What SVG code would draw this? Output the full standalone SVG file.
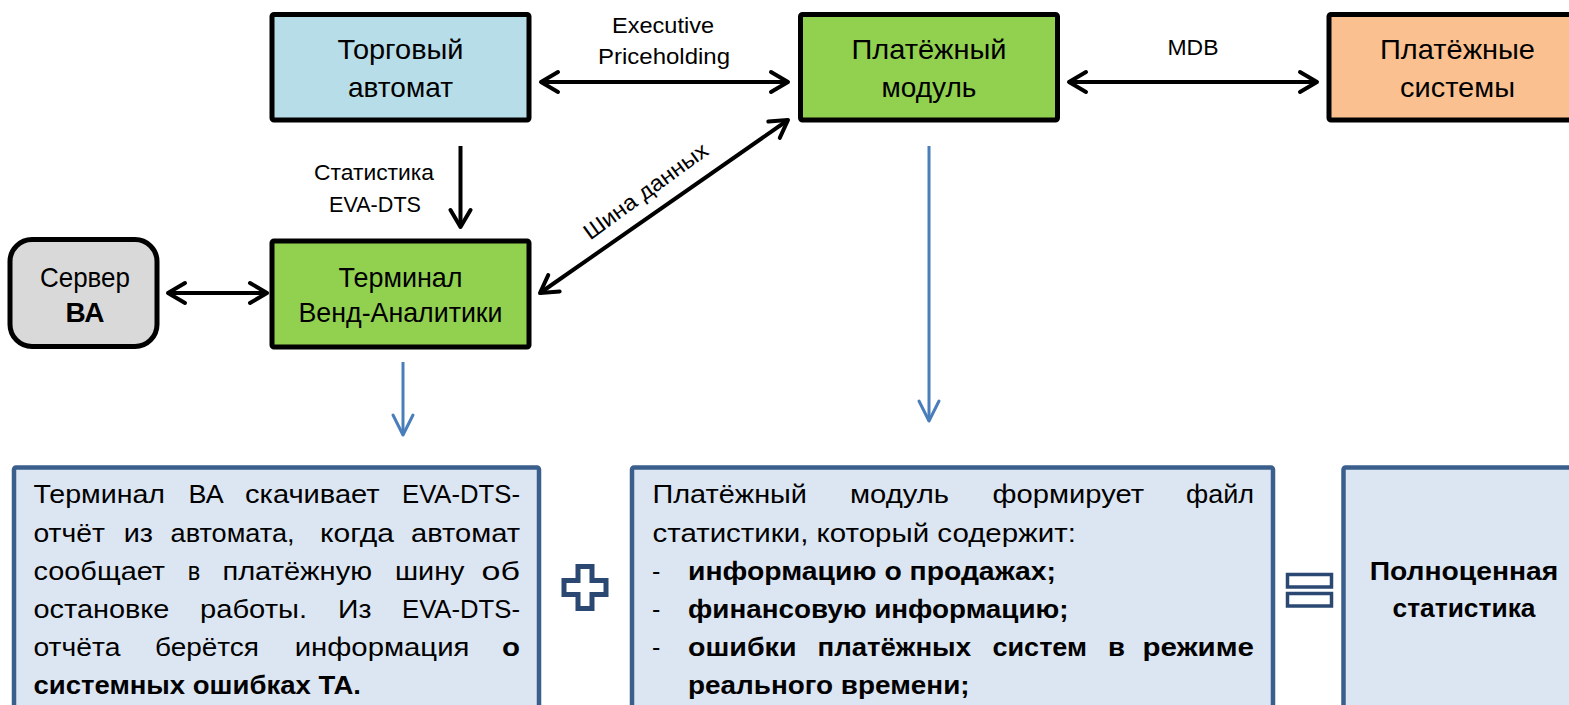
<svg xmlns="http://www.w3.org/2000/svg" width="1569" height="705" viewBox="0 0 1569 705">
<style>
text{font-family:"Liberation Sans",Arial,sans-serif;fill:#000}
.node{stroke:#000;stroke-width:5}
.nt{font-size:28px;text-anchor:middle}
.lbl{font-size:22px;text-anchor:middle}
.body{font-size:25px}
.b{font-weight:bold}
.tb{fill:#dce6f2;stroke:#3b5f8c;stroke-width:4.5}
.blk{stroke:#000;stroke-width:4;fill:none}
.blu{stroke:#4a7ebb;stroke-width:3;fill:none}
.sym{fill:#fff;stroke:#2b4873}
</style>
<defs>
<marker id="ah" markerWidth="26" markerHeight="26" viewBox="0 0 26 26" refX="22" refY="13" orient="auto-start-reverse" markerUnits="userSpaceOnUse">
<path d="M5,3 L22,13 L5,23" fill="none" stroke="#000" stroke-width="4" stroke-linecap="round" stroke-linejoin="round"/>
</marker>
<marker id="bh" markerWidth="26" markerHeight="26" viewBox="0 0 26 26" refX="23" refY="13" orient="auto" markerUnits="userSpaceOnUse">
<path d="M3,3 L23,13 L3,23" fill="none" stroke="#4a7ebb" stroke-width="3" stroke-linecap="round" stroke-linejoin="round"/>
</marker>
</defs>
<rect width="1569" height="705" fill="#fff"/>

<g id="connectors">
<line class="blk" x1="541" y1="82" x2="788" y2="82" marker-start="url(#ah)" marker-end="url(#ah)"/>
<line class="blk" x1="1069" y1="82" x2="1317" y2="82" marker-start="url(#ah)" marker-end="url(#ah)"/>
<line class="blk" x1="460.5" y1="146" x2="460.5" y2="227" marker-end="url(#ah)"/>
<line class="blk" x1="168" y1="293" x2="267" y2="293" marker-start="url(#ah)" marker-end="url(#ah)"/>
<line class="blk" x1="540" y1="293" x2="788" y2="120" marker-start="url(#ah)" marker-end="url(#ah)"/>
<line class="blu" x1="403" y1="362" x2="403" y2="435" marker-end="url(#bh)"/>
<line class="blu" x1="929" y1="146" x2="929" y2="421" marker-end="url(#bh)"/>
<text class="lbl" x="663" y="33" textLength="102" lengthAdjust="spacingAndGlyphs">Executive</text>
<text class="lbl" x="664" y="64" textLength="132" lengthAdjust="spacingAndGlyphs">Priceholding</text>
<text class="lbl" x="1193" y="55" textLength="51" lengthAdjust="spacingAndGlyphs">MDB</text>
<text class="lbl" x="374" y="180" textLength="120" lengthAdjust="spacingAndGlyphs">Статистика</text>
<text class="lbl" x="375" y="212" textLength="92" lengthAdjust="spacingAndGlyphs">EVA-DTS</text>
<text class="lbl" transform="translate(650,197) rotate(-36)" x="0" y="0" textLength="148" lengthAdjust="spacingAndGlyphs">Шина данных</text>
</g>

<g id="vending">
<rect class="node" x="272" y="14.5" width="257" height="105.5" rx="2" fill="#b7dde8"/>
<text class="nt" x="400.5" y="59" textLength="126" lengthAdjust="spacingAndGlyphs">Торговый</text>
<text class="nt" x="400.5" y="97">автомат</text>
</g>

<g id="paymodule">
<rect class="node" x="800.5" y="14.5" width="257" height="105.5" rx="2" fill="#92d050"/>
<text class="nt" x="929" y="59" textLength="155" lengthAdjust="spacingAndGlyphs">Платёжный</text>
<text class="nt" x="929" y="97">модуль</text>
</g>

<g id="paysystems">
<rect class="node" x="1329" y="14.5" width="260" height="105.5" rx="2" fill="#fac090"/>
<text class="nt" x="1457.5" y="59" textLength="155" lengthAdjust="spacingAndGlyphs">Платёжные</text>
<text class="nt" x="1457.5" y="97" textLength="115" lengthAdjust="spacingAndGlyphs">системы</text>
</g>

<g id="server">
<rect class="node" x="10" y="239.5" width="147" height="107" rx="22" fill="#d9d9d9"/>
<text class="nt" x="85" y="287" textLength="90" lengthAdjust="spacingAndGlyphs">Сервер</text>
<text class="nt b" x="85" y="322">ВА</text>
</g>

<g id="terminal">
<rect class="node" x="272" y="241" width="257" height="106" rx="2" fill="#92d050"/>
<text class="nt" x="400.5" y="287" textLength="124" lengthAdjust="spacingAndGlyphs">Терминал</text>
<text class="nt" x="400.5" y="322" textLength="204" lengthAdjust="spacingAndGlyphs">Венд-Аналитики</text>
</g>

<g id="note-terminal">
<rect class="tb" x="14" y="467.5" width="525" height="262" rx="2"/>
<text class="body" y="503"><tspan x="33.5" textLength="131.5" lengthAdjust="spacingAndGlyphs">Терминал</tspan> <tspan x="188.6" textLength="35" lengthAdjust="spacingAndGlyphs">ВА</tspan> <tspan x="245" textLength="134.6" lengthAdjust="spacingAndGlyphs">скачивает</tspan> <tspan x="402" textLength="118" lengthAdjust="spacingAndGlyphs">EVA-DTS-</tspan></text>
<text class="body" y="541.5"><tspan x="33.5" textLength="71.5" lengthAdjust="spacingAndGlyphs">отчёт</tspan> <tspan x="123.7" textLength="29.3" lengthAdjust="spacingAndGlyphs">из</tspan> <tspan x="170.6" textLength="124" lengthAdjust="spacingAndGlyphs">автомата,</tspan> <tspan x="320" textLength="74" lengthAdjust="spacingAndGlyphs">когда</tspan> <tspan x="411" textLength="109" lengthAdjust="spacingAndGlyphs">автомат</tspan></text>
<text class="body" y="580"><tspan x="33.5" textLength="131.5" lengthAdjust="spacingAndGlyphs">сообщает</tspan> <tspan x="187.8" textLength="12.5" lengthAdjust="spacingAndGlyphs">в</tspan> <tspan x="222.4" textLength="149.6" lengthAdjust="spacingAndGlyphs">платёжную</tspan> <tspan x="395" textLength="69.5" lengthAdjust="spacingAndGlyphs">шину</tspan> <tspan x="481.6" textLength="38.4" lengthAdjust="spacingAndGlyphs">об</tspan></text>
<text class="body" y="618"><tspan x="33.5" textLength="135.9" lengthAdjust="spacingAndGlyphs">остановке</tspan> <tspan x="200" textLength="107" lengthAdjust="spacingAndGlyphs">работы.</tspan> <tspan x="338" textLength="33.4" lengthAdjust="spacingAndGlyphs">Из</tspan> <tspan x="402" textLength="118" lengthAdjust="spacingAndGlyphs">EVA-DTS-</tspan></text>
<text class="body" y="656"><tspan x="33.5" textLength="86.9" lengthAdjust="spacingAndGlyphs">отчёта</tspan> <tspan x="155" textLength="104" lengthAdjust="spacingAndGlyphs">берётся</tspan> <tspan x="294.7" textLength="174.7" lengthAdjust="spacingAndGlyphs">информация</tspan> <tspan class="b" x="502" textLength="18" lengthAdjust="spacingAndGlyphs">о</tspan></text>
<text class="body b" x="33.5" y="694" textLength="327.5" lengthAdjust="spacingAndGlyphs">системных ошибках ТА.</text>
</g>

<g id="plus">
<path class="sym" stroke-width="5" d="M578,566.5 H592 V580.5 H606 V594.5 H592 V608.5 H578 V594.5 H564 V580.5 H578 Z"/>
</g>

<g id="note-module">
<rect class="tb" x="632" y="467.5" width="641" height="262" rx="2"/>
<text class="body" y="503"><tspan x="652.5" textLength="154.5" lengthAdjust="spacingAndGlyphs">Платёжный</tspan> <tspan x="850" textLength="99" lengthAdjust="spacingAndGlyphs">модуль</tspan> <tspan x="992.5" textLength="151.5" lengthAdjust="spacingAndGlyphs">формирует</tspan> <tspan x="1186" textLength="68" lengthAdjust="spacingAndGlyphs">файл</tspan></text>
<text class="body" x="652.5" y="541.5" textLength="423.5" lengthAdjust="spacingAndGlyphs">статистики, который содержит:</text>
<text class="body" x="652" y="580">-</text>
<text class="body b" x="688" y="580" textLength="368" lengthAdjust="spacingAndGlyphs">информацию о продажах;</text>
<text class="body" x="652" y="618">-</text>
<text class="body b" x="688" y="618" textLength="380.5" lengthAdjust="spacingAndGlyphs">финансовую информацию;</text>
<text class="body" x="652" y="656">-</text>
<text class="body b" y="656"><tspan x="688" textLength="108.5" lengthAdjust="spacingAndGlyphs">ошибки</tspan> <tspan x="817.5" textLength="153.5" lengthAdjust="spacingAndGlyphs">платёжных</tspan> <tspan x="992.5" textLength="94.5" lengthAdjust="spacingAndGlyphs">систем</tspan> <tspan x="1108" textLength="17" lengthAdjust="spacingAndGlyphs">в</tspan> <tspan x="1142.6" textLength="111.4" lengthAdjust="spacingAndGlyphs">режиме</tspan></text>
<text class="body b" x="688" y="694" textLength="281.6" lengthAdjust="spacingAndGlyphs">реального времени;</text>
</g>

<g id="equals">
<rect class="sym" stroke-width="3.5" x="1287.5" y="574.5" width="44" height="12.5"/>
<rect class="sym" stroke-width="3.5" x="1287.5" y="593.5" width="44" height="12.5"/>
</g>

<g id="result">
<rect class="tb" x="1343.5" y="467.5" width="260" height="262" rx="2"/>
<text class="body b" x="1464" y="580" text-anchor="middle" textLength="188.5" lengthAdjust="spacingAndGlyphs">Полноценная</text>
<text class="body b" x="1464" y="617" text-anchor="middle" textLength="143" lengthAdjust="spacingAndGlyphs">статистика</text>
</g>
</svg>
